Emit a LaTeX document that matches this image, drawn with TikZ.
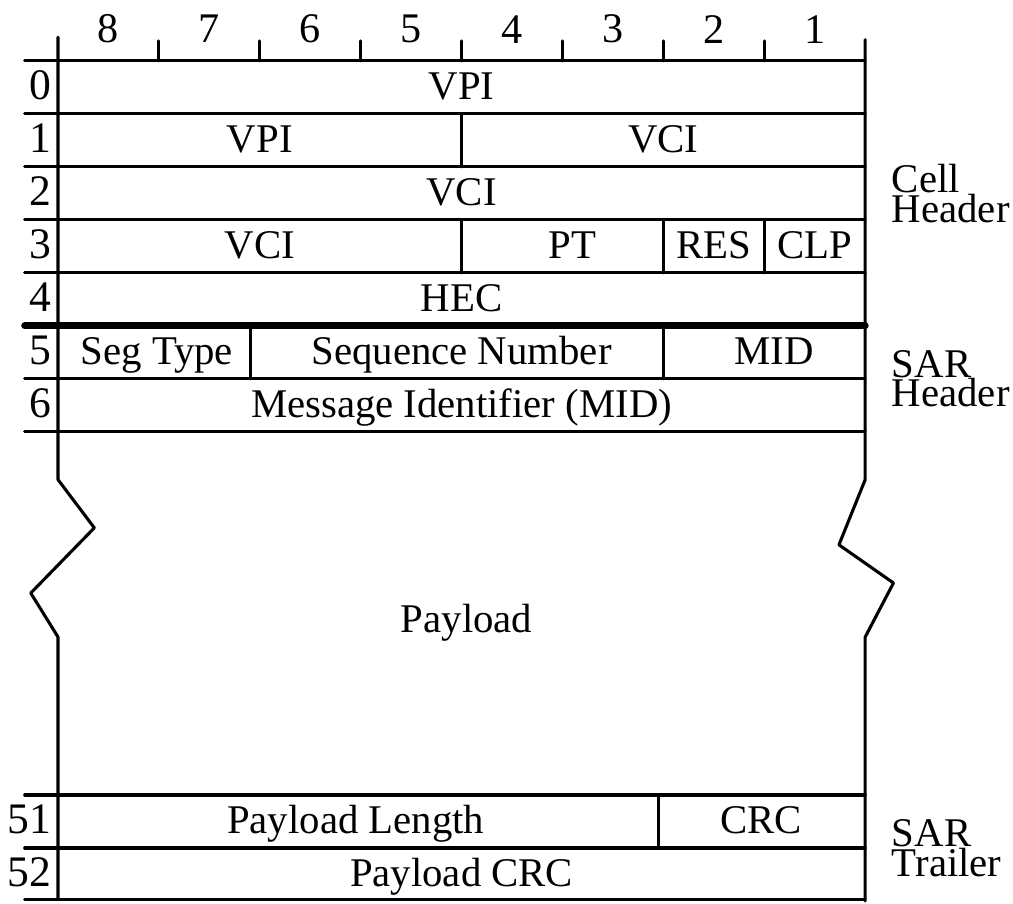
\documentclass[tikz,border=0pt]{standalone}
\usepackage{fontspec}
\setmainfont{Liberation Serif}
\begin{document}
\begin{tikzpicture}[x=2.5225cm, y=-1.325cm, line width=2.2pt, line cap=round, line join=round,
  field/.style={font=\fontsize{29}{29}\selectfont, text height=20pt, text depth=3pt, inner sep=0pt},
  rownum/.style={field, font=\fontsize{31}{31}\selectfont, anchor=east},
  bitnum/.style={font=\fontsize{30}{30}\selectfont, inner sep=0pt},
  part/.style={font=\fontsize{29}{21}\selectfont, align=left, anchor=west, inner sep=0pt}]
  \useasboundingbox (-0.575,-1.15) rectangle (9.465,15.89);
  % bit numbers along the top
  \foreach \b in {1,...,7} \draw (\b,0) -- (\b,-0.38);
  \foreach \b in {1,...,8} \node[bitnum] (bit\b) at (8.5-\b,-0.6) {\b};
  % octet lines
  \foreach \r in {0,1,2,3,4,6,7} \draw (-0.33,\r) -- (8,\r);
  \draw[line width=5pt] (-0.33,5) -- (8,5);
  \foreach \r in {13.85,14.85,15.82} \draw (-0.33,\r) -- (8,\r);
  % outer borders, broken round the payload
  \draw (0,-0.45) -- (0,7.9) -- (0.36,8.81) -- (-0.27,10.04) -- (0,10.87) -- (0,15.82);
  \draw (8,-0.4) -- (8,7.9) -- (7.74,9.13) -- (8.28,9.85) -- (8,10.87) -- (8,15.85);
  % field dividers
  \draw (4,1) -- (4,2);
  \draw (4,3) -- (4,4) (6,3) -- (6,4) (7,3) -- (7,4);
  \draw (1.91,5) -- (1.91,6) (6,5) -- (6,6);
  \draw (5.95,13.85) -- (5.95,14.85);
  % octet numbers
  \foreach \r in {0,...,6} \node[rownum] (row\r) at (-0.05,\r+0.5) {\r};
  \node[rownum] (row51) at (-0.05,14.35) {51};
  \node[rownum] (row52) at (-0.05,15.35) {52};
  % fields
  \node[field] (vpia) at (4,0.5) {VPI};
  \node[field] (vpib) at (2,1.5) {VPI};
  \node[field] (vcia) at (6,1.5) {VCI};
  \node[field] (vcib) at (4,2.5) {VCI};
  \node[field] (vcic) at (2,3.5) {VCI};
  \node[field] (pt) at (5.1,3.5) {PT};
  \node[field] (res) at (6.5,3.5) {RES};
  \node[field] (clp) at (7.5,3.5) {CLP};
  \node[field] (hec) at (4,4.5) {HEC};
  \node[field] (segtype) at (0.98,5.5) {Seg Type};
  \node[field] (seqnum) at (4,5.5) {Sequence Number};
  \node[field] (mid) at (7.1,5.5) {MID};
  \node[field] (msgid) at (4,6.5) {Message Identifier (MID)};
  \node[field] (payload) at (4.05,10.55) {Payload};
  \node[field] (paylen) at (2.95,14.35) {Payload Length};
  \node[field] (crc) at (6.97,14.35) {CRC};
  \node[field] (paycrc) at (4,15.35) {Payload CRC};
  % parts of the cell
  \node[part] (cellhdr) at (8.25,2.5) {Cell\\Header};
  \node[part] (sarhdr) at (8.25,6) {SAR\\Header};
  \node[part] (sartrl) at (8.25,14.85) {SAR\\Trailer};
\end{tikzpicture}
\end{document}
